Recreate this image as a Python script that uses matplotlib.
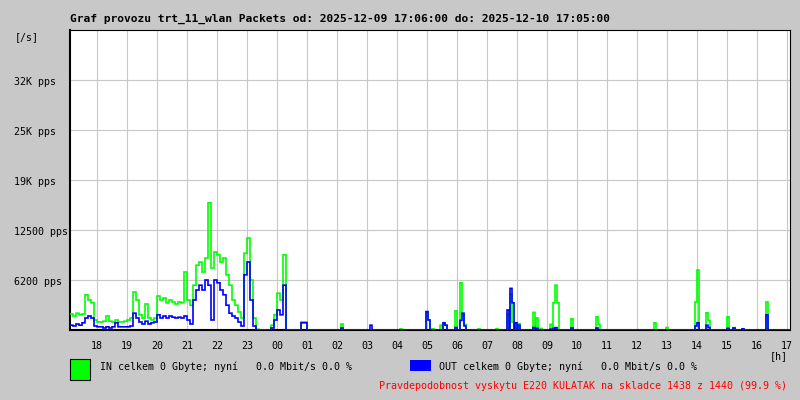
#!/usr/bin/env python3
# -*- coding: utf-8 -*-
"""
Packet rate graph for trt_11_wlan, one day from 17:06.
"""

import numpy as np
import matplotlib
matplotlib.use('Agg')
import matplotlib.pyplot as plt
import matplotlib.patches as mpatches
import matplotlib.transforms as mtrans

##! Data:
title = "Graf provozu trt_11_wlan Packets od: 2025-12-09 17:06:00 do: 2025-12-10 17:05:00"
start_clock = "17:06"

# evening block, one value every 6 minutes from 17:06 [pps]
in_evening = [2000, 1750, 2100, 1900, 2000, 4400, 3750, 3400, 1250, 1000,
              1000, 1100, 1750, 1100, 1000, 1250, 1000, 1000, 1100, 1250,
              1500, 4750, 3750, 1900, 1500, 3250, 1500, 1250, 1500, 4250,
              3750, 4000, 3400, 3750, 3500, 3250, 3500, 3400, 7250, 3750,
              3100, 5600, 8100, 8500, 7250, 9000, 15900, 7750, 9750, 9400,
              8500, 9000, 6900, 5600, 3750, 3100, 2250, 1500, 9600, 11500,
              6250, 1500, 100, 0, 0, 0, 0, 600, 1900, 4600,
              3750, 9400, 0, 0, 0, 0, 0, 1000, 1000, 0, 0]
out_evening = [600, 500, 750, 600, 900, 1500, 1750, 1500, 500, 400,
               400, 250, 400, 250, 400, 900, 400, 400, 400, 400,
               500, 2100, 1500, 1000, 750, 1100, 750, 900, 1000, 1900,
               1500, 1750, 1500, 1750, 1600, 1500, 1600, 1500, 1750, 1250,
               750, 3750, 5000, 5600, 5000, 6250, 5600, 1250, 6250, 5900,
               5000, 4400, 3100, 2100, 1750, 1500, 1000, 500, 6900, 8500,
               3750, 500, 0, 0, 0, 0, 0, 250, 1250, 2500,
               1900, 5600, 0, 0, 0, 0, 0, 900, 900, 0, 0]

# short bursts later in the night and next day
burst_time = ["02:08", "03:06", "04:06", "04:58", "05:02", "05:10", "05:26",
              "05:32", "05:36", "05:56", "06:06", "06:10", "06:14", "06:42",
              "07:18", "07:40", "07:46", "07:50", "07:56", "08:02", "08:32",
              "08:38", "08:46", "09:06", "09:12", "09:16", "09:20", "09:48",
              "10:38", "10:42", "12:34", "12:58", "13:56", "14:00", "14:18",
              "14:22", "15:00", "15:12", "15:30", "16:18"]
burst_in = [750, 0, 150, 2250, 1250, 150, 600,
            900, 600, 2400, 5900, 2000, 700, 150,
            150, 2000, 4500, 1000, 900, 800, 2200,
            1500, 200, 700, 3400, 5600, 3400, 1400,
            1650, 700, 900, 300, 3500, 7500, 2150,
            1200, 1650, 300, 0, 3500]
burst_out = [250, 600, 0, 2300, 1250, 0, 0,
             900, 600, 300, 1200, 2100, 500, 0,
             0, 2500, 5200, 3400, 900, 600, 300,
             200, 0, 100, 200, 300, 0, 250,
             250, 0, 0, 0, 500, 900, 600,
             300, 200, 250, 150, 1900]

ytick_vals = [6250, 12500, 18750, 25000, 31250]
ytick_labels = ["6200 pps", "12500 pps", "19K pps", "25K pps", "32K pps"]
hour_labels = ["18", "19", "20", "21", "22", "23", "00", "01", "02", "03", "04", "05",
               "06", "07", "08", "09", "10", "11", "12", "13", "14", "15", "16", "17"]

legend_in = "IN celkem 0 Gbyte; nyní   0.0 Mbit/s 0.0 %"
legend_out = "OUT celkem 0 Gbyte; nyní   0.0 Mbit/s 0.0 %"
footer = "Pravdepodobnost vyskytu E220 KULATAK na skladce 1438 z 1440 (99.9 %)"

##! Build series on a 2 minute grid:
def clock_min(s):
    h, m = s.split(':')
    return int(h)*60 + int(m)

step = 2
n = 24*60 // step
t0 = clock_min(start_clock)
sin = np.zeros(n)
sout = np.zeros(n)
sin[:3*len(in_evening)] = np.repeat(in_evening, 3)
sout[:3*len(out_evening)] = np.repeat(out_evening, 3)
for c, vi, vo in zip(burst_time, burst_in, burst_out):
    i = ((clock_min(c) - t0) % 1440) // step
    sin[i:i+2] = np.maximum(sin[i:i+2], vi)
    sout[i:i+2] = np.maximum(sout[i:i+2], vo)
edges = np.arange(n + 1) * step / 60.

##! Plot:
bg = '#c8c8c8'
mono = 'DejaVu Sans Mono'
fig = plt.figure(figsize=(8, 4), dpi=100, facecolor=bg)
ax = fig.add_axes([70/800, 70/400, 720/800, 300/400])
ax.set_facecolor('white')

ax.stairs(sin, edges, baseline=None, color='#00ff00', lw=1.2, zorder=3)
ax.stairs(sout, edges, baseline=None, color='#0000ff', lw=1.2, zorder=4)

ax.set_xlim(0, 24)
ax.set_ylim(0, 37500)
hour_pos = [(60 - t0 % 60)/60. + i for i in range(len(hour_labels))]
ax.set_xticks(hour_pos)
ax.set_xticklabels(hour_labels, family=mono, fontsize=7.2)
ax.set_yticks(ytick_vals)
ax.set_yticklabels([])
ax.tick_params(length=0)
ax.tick_params(axis='x', pad=8)
ax.grid(color=bg, lw=0.8)
ax.set_axisbelow(True)
for side in ['left', 'bottom']:
    ax.spines[side].set_linewidth(1.5)
for side in ['top', 'right']:
    ax.spines[side].set_linewidth(0.8)

# left aligned y labels
tr = mtrans.blended_transform_factory(fig.transFigure, ax.transData)
tr = tr + mtrans.ScaledTranslation(0, -2/100., fig.dpi_scale_trans)
for v, lab in zip(ytick_vals, ytick_labels):
    ax.text(14/800, v, lab, transform=tr, ha='left', va='center',
            family=mono, fontsize=7.2)

fig.text(70/800, 1 - 19/400, title, ha='left', va='center',
         family=mono, fontweight='bold', fontsize=8.1)
fig.text(15/800, 1 - 37/400, "[/s]", ha='left', va='center', family=mono, fontsize=7.2)
fig.text(779/800, 1 - 356/400, "[h]", ha='center', va='center', family=mono, fontsize=7.2)

# legend
fig.add_artist(mpatches.Rectangle((70/800, 1 - 380/400), 20/800, 21/400,
                                  transform=fig.transFigure, facecolor='#00ff00',
                                  edgecolor='black', lw=0.8))
fig.add_artist(mpatches.Rectangle((410/800, 1 - 371/400), 21/800, 11/400,
                                  transform=fig.transFigure, facecolor='#0000ff',
                                  edgecolor='none'))
fig.text(100/800, 1 - 367/400, legend_in, ha='left', va='center', family=mono, fontsize=7.2)
fig.text(439/800, 1 - 367/400, legend_out, ha='left', va='center', family=mono, fontsize=7.2)
fig.text(787/800, 1 - 386/400, footer, ha='right', va='center', family=mono,
         fontsize=7.2, color='#ff0000')

fig.savefig('out.png', dpi=100, facecolor=bg)
plt.close()
